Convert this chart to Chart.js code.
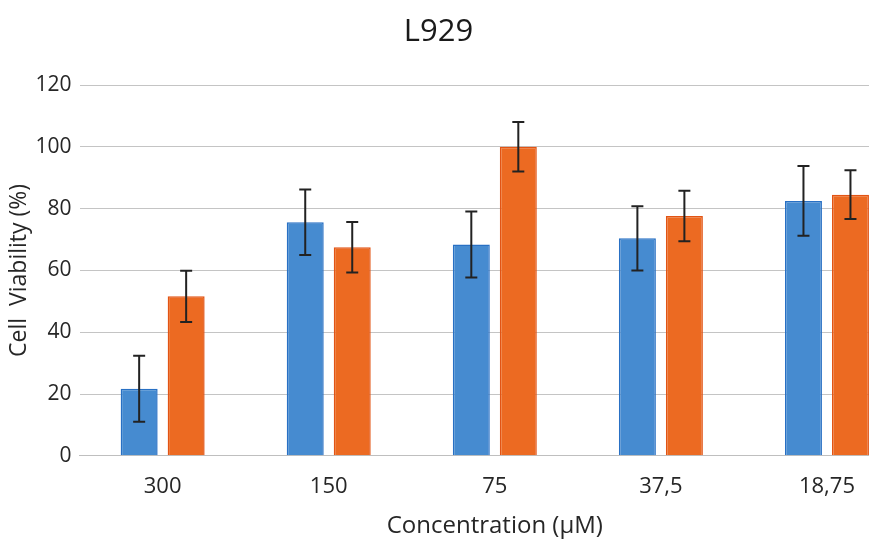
<!DOCTYPE html>
<html>
<head>
<meta charset="utf-8">
<script src="https://cdn.jsdelivr.net/npm/chart.js@4"></script>
<style>
  html, body { margin: 0; padding: 0; background: #fff; overflow: hidden; }
  #wrap { position: relative; width: 869px; height: 539px; overflow: hidden; }
  #title {
    position: absolute; top: 8px; left: 4px; width: 869px; text-align: center;
    font-family: "Open Sans", sans-serif; font-size: 31px; color: #1a1a1a;
  }
  #myChart { position: absolute; left: 0; top: 0; }
</style>
</head>
<body>
<div id="wrap">
  <canvas id="myChart" width="910" height="539"></canvas>
  <div id="title">L929</div>
</div>
<script>
// values
const concentrations = ["300", "150", "75", "37,5", "18,75"];
const blueValues = [21.7, 75.6, 68.4, 70.4, 82.5];
const blueErrors = [10.7, 10.6, 10.7, 10.4, 11.3];
const orangeValues = [51.6, 67.5, 100.0, 77.6, 84.5];
const orangeErrors = [8.3, 8.2, 8.0, 8.2, 7.9];
const yTicks = [0, 20, 40, 60, 80, 100, 120];

// draws the black error bars on top of the bars
const errorBars = {
  id: "errorBars",
  afterDatasetsDraw(chart) {
    const { ctx, scales: { y } } = chart;
    ctx.save();
    ctx.strokeStyle = "#222";
    ctx.lineWidth = 2;
    chart.data.datasets.forEach((ds, i) => {
      const meta = chart.getDatasetMeta(i);
      meta.data.forEach((bar, j) => {
        const v = ds.data[j], e = ds.errors[j];
        const top = y.getPixelForValue(v + e);
        const bottom = y.getPixelForValue(v - e);
        ctx.beginPath();
        ctx.moveTo(bar.x, top);
        ctx.lineTo(bar.x, bottom);
        ctx.moveTo(bar.x - 6, top);
        ctx.lineTo(bar.x + 6, top);
        ctx.moveTo(bar.x - 6, bottom);
        ctx.lineTo(bar.x + 6, bottom);
        ctx.stroke();
      });
    });
    ctx.restore();
  }
};

const ctx = document.getElementById("myChart").getContext("2d");
new Chart(ctx, {
  type: "bar",
  data: {
    labels: concentrations,
    datasets: [
      {
        data: blueValues,
        errors: blueErrors,
        backgroundColor: "rgb(70, 139, 208)",
        borderColor: "rgb(40, 112, 196)",
        borderWidth: 1.5
      },
      {
        data: orangeValues,
        errors: orangeErrors,
        backgroundColor: "rgb(236, 106, 34)",
        borderColor: "rgb(226, 84, 20)",
        borderWidth: 1.5
      }
    ]
  },
  options: {
    responsive: false,
    animation: false,
    categoryPercentage: 0.566,
    barPercentage: 0.787,
    layout: { padding: { top: 85, left: 6, right: 0, bottom: -2 } },
    plugins: {
      legend: { display: false },
      tooltip: { enabled: false }
    },
    scales: {
      x: {
        grid: { display: false, drawTicks: false },
        border: { display: true, color: "#bfbfbf", width: 1 },
        ticks: {
          color: "#262626",
          padding: 18,
          font: { family: "Open Sans", size: 22 }
        },
        title: {
          display: true,
          text: "Concentration (µM)",
          color: "#262626",
          padding: { top: -6, bottom: 0 },
          font: { family: "Open Sans", size: 24 }
        }
      },
      y: {
        min: 0,
        max: 120,
        afterBuildTicks(axis) {
          axis.ticks = yTicks.map(v => ({ value: v }));
        },
        grid: { color: "#c4c4c4", lineWidth: 1, drawTicks: false },
        border: { display: false },
        ticks: {
          color: "#262626",
          padding: 8,
          font: { family: "Open Sans", size: 21 }
        },
        title: {
          display: true,
          text: "Cell  Viability (%)",
          color: "#262626",
          padding: { top: 0, bottom: -6 },
          font: { family: "Open Sans", size: 23 }
        }
      }
    }
  },
  plugins: [errorBars]
});
</script>
</body>
</html>
